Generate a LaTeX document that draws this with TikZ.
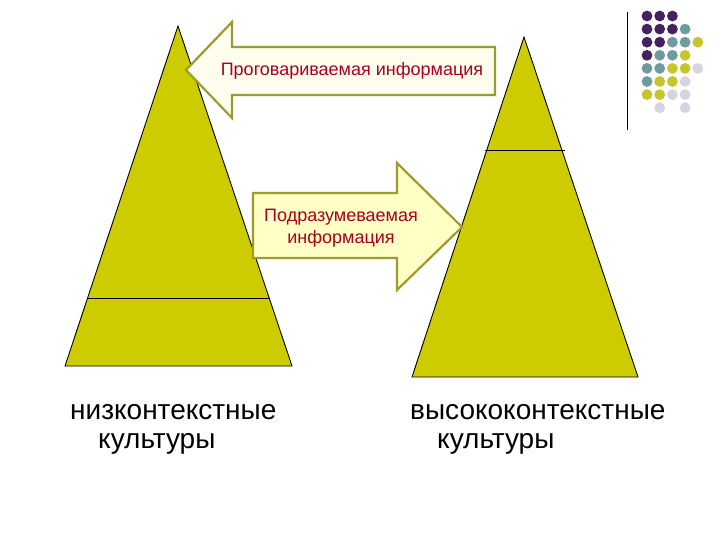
\documentclass[tikz,border=0pt]{standalone}
\usepackage{fontspec}
\setmainfont{Liberation Sans}
\usepackage{tikz}
\usetikzlibrary{calc}

\definecolor{pyramid}{HTML}{CCCC00}
\definecolor{arrowline}{HTML}{9C9C2E}
\definecolor{arrowfillA}{HTML}{FFFDEE}
\definecolor{arrowfillB}{HTML}{FFFFC6}
\definecolor{infotext}{HTML}{A8001E}
\definecolor{dotpurple}{HTML}{44215F}
\definecolor{dotteal}{HTML}{6E9C9E}
\definecolor{dotyellow}{HTML}{C6C62C}
\definecolor{dotgray}{HTML}{D4D4E2}

\tikzset{
  pyr/.style={fill=pyramid,draw=black,line width=0.9pt,line join=miter},
  divider/.style={draw=black,line width=0.9pt},
  infoarrow/.style={draw=arrowline,line width=2.2pt,line join=miter},
  infolabel/.style={text=infotext,font=\fontsize{18}{22}\selectfont,align=center,inner sep=0pt},
  culture/.style={text=black,font=\fontsize{28}{30}\selectfont,anchor=base west,inner sep=0pt},
}

\begin{document}
\begin{tikzpicture}[x=1pt,y=-1pt]
			\useasboundingbox (0,0) rectangle (720,540);
			
			% left pyramid
			\coordinate (LT) at (178,26);
			\coordinate (LL) at (65,366);
			\coordinate (LR) at (292,366);
			\draw[pyr] (LT)--(LL)--(LR)--cycle;
			\coordinate (Ld1) at (88,298);
			\coordinate (Ld2) at (269,298);
			\draw[divider] (Ld1)--(Ld2);
			
			% right pyramid
			\coordinate (RT) at (524,37);
			\coordinate (RL) at (412,377);
			\coordinate (RR) at (638,377);
			\draw[pyr] (RT)--(RL)--(RR)--cycle;
			\coordinate (Rd1) at (485,150);
			\coordinate (Rd2) at (565,150);
			\draw[divider] (Rd1)--(Rd2);
			
			% spoken information
			\draw[infoarrow,fill=arrowfillA] (186,70)--(232,22)--(232,47)--(495,47)
			--(495,95)--(232,95)--(232,118)--cycle;
			\node[infolabel] (spoken) at (352,71){Проговариваемая информация};
			
			% implied information
			\draw[infoarrow,fill=arrowfillB] (462,227)--(397,163)--(397,193)--(253,193)
			--(253,258)--(397,258)--(397,290)--cycle;
			\node[infolabel] (implied) at (341,228){Подразумеваемая\\информация};
			
			% captions
			\node[culture] (low1) at (70,419){низконтекстные};
			\node[culture] (low2) at (98,448){культуры};
			\node[culture] (high1) at (410,419){высококонтекстные};
			\node[culture] (high2) at (437,448){культуры};
			
			% corner decoration
			\coordinate (V1) at (627,12);
			\coordinate (V2) at (627,130);
			\draw[line width=1pt] (V1)--(V2);
			\foreach \c/\r/\col in {0/0/dotpurple,1/0/dotpurple,2/0/dotpurple,
				0/1/dotpurple,1/1/dotpurple,2/1/dotpurple,3/1/dotteal,
				0/2/dotpurple,1/2/dotpurple,2/2/dotteal,3/2/dotteal,4/2/dotyellow,
				0/3/dotpurple,1/3/dotteal,2/3/dotteal,3/3/dotyellow,
				0/4/dotteal,1/4/dotteal,2/4/dotyellow,3/4/dotyellow,4/4/dotgray,
				0/5/dotteal,1/5/dotyellow,2/5/dotyellow,3/5/dotgray,
				0/6/dotyellow,1/6/dotyellow,2/6/dotgray,3/6/dotgray,
				1/7/dotgray,3/7/dotgray}
			\fill[\col] (647+12.7*\c,16+13.1*\r) circle (5.4);
		\end{tikzpicture}
\end{document}
